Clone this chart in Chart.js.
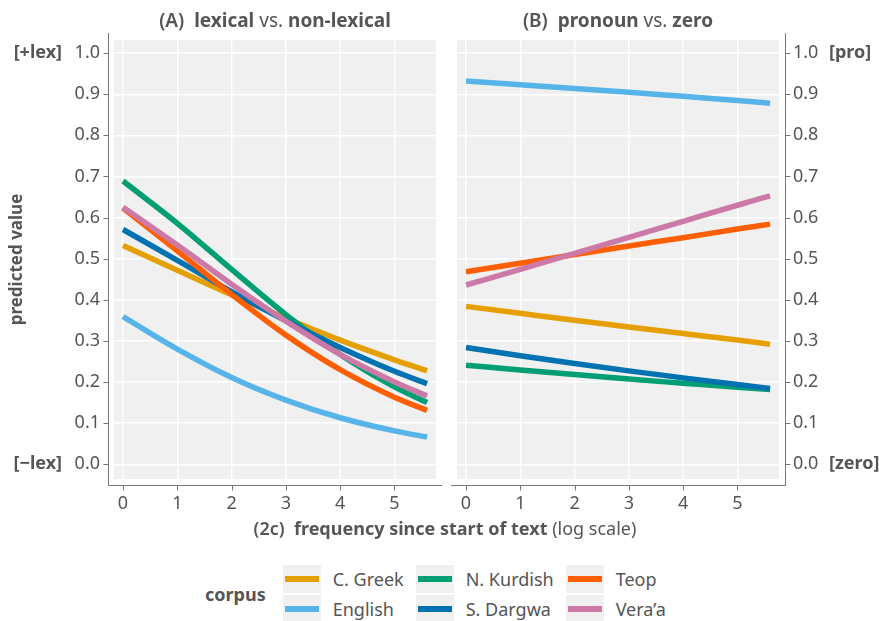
<!DOCTYPE html>
<html>
<head>
<meta charset="utf-8">
<script src="https://cdn.jsdelivr.net/npm/chart.js@4.4.1/dist/chart.umd.min.js"></script>
<style>
  html, body { margin: 0; padding: 0; background: #fff; }
  body { width: 879px; height: 621px; position: relative; overflow: hidden;
         font-family: "Noto Sans", Lato, sans-serif; color: #555; }
  canvas { position: absolute; top: 0; }
  #panelA { left: 0; }
  #panelB { left: 446px; }
  .ptitle { position: absolute; top: 7px; font-size: 19px; line-height: 26px;
            white-space: nowrap; transform: translateX(-50%); }
  .xtitle { position: absolute; top: 516px; left: 445px; font-size: 18px; line-height: 24px;
            white-space: nowrap; transform: translateX(-50%); }
  .b { font-weight: 700; }
  .sb { font-weight: 600; }
  .n { font-weight: 400; }
  #legend { position: absolute; left: 205px; top: 565px; display: flex; align-items: center; }
  #legend .ltitle { font-weight: 700; font-size: 18px; margin-right: 17px; }
  #legend .cols { display: flex; column-gap: 12px; }
  #legend .col { display: flex; flex-direction: column; row-gap: 2px; }
  #legend .item { display: flex; align-items: center; height: 28px; }
  #legend .key { width: 38px; height: 28px; background: #f0f0f0; position: relative; margin-right: 12px; }
  #legend .key i { position: absolute; left: 2px; right: 2px; top: 11px; height: 6px; }
  #legend .lab { font-size: 18px; }
</style>
</head>
<body>
<canvas id="panelA" width="450" height="540"></canvas>
<canvas id="panelB" width="433" height="540"></canvas>

<div class="ptitle" style="left:275px"><span class="sb">(A)</span>&nbsp; <span class="b">lexical</span> <span class="n">vs.</span> <span class="b">non-lexical</span></div>
<div class="ptitle" style="left:618px"><span class="sb">(B)</span>&nbsp; <span class="b">pronoun</span> <span class="n">vs.</span> <span class="b">zero</span></div>
<div class="xtitle"><span class="sb">(2c)</span>&nbsp; <span class="b">frequency since start of text</span> <span class="n">(log scale)</span></div>
<div id="legend"><span class="ltitle">corpus</span><div class="cols"></div></div>

<script>
// ---- data -------------------------------------------------------------
const corpora = ["C. Greek", "English", "N. Kurdish", "S. Dargwa", "Teop", "Vera\u2019a"];
const corpusColors = ["#E69F00", "#56B4E9", "#009E73", "#0072B2", "#FF5F00", "#CC79A7"];

// log frequency since start of text
const freq = [0, 1, 2, 3, 4, 5, 5.6];

// (A) predicted probability of a lexical form
const lexGreek   = [0.532, 0.472, 0.412, 0.355, 0.302, 0.254, 0.227];
const lexEnglish = [0.359, 0.280, 0.211, 0.156, 0.113, 0.081, 0.066];
const lexKurdish = [0.689, 0.586, 0.474, 0.364, 0.267, 0.188, 0.150];
const lexDargwa  = [0.571, 0.496, 0.420, 0.349, 0.284, 0.226, 0.196];
const lexTeop    = [0.623, 0.519, 0.413, 0.314, 0.230, 0.163, 0.131];
const lexVeraa   = [0.625, 0.533, 0.438, 0.348, 0.267, 0.200, 0.166];

// (B) predicted probability of a pronoun (vs. zero)
const proGreek   = [0.384, 0.367, 0.350, 0.334, 0.318, 0.302, 0.292];
const proEnglish = [0.932, 0.923, 0.914, 0.905, 0.895, 0.885, 0.878];
const proKurdish = [0.241, 0.229, 0.218, 0.207, 0.197, 0.187, 0.182];
const proDargwa  = [0.284, 0.264, 0.245, 0.227, 0.210, 0.194, 0.184];
const proTeop    = [0.468, 0.489, 0.510, 0.531, 0.551, 0.572, 0.584];
const proVeraa   = [0.436, 0.474, 0.513, 0.552, 0.591, 0.630, 0.653];

const xTicks = [0, 1, 2, 3, 4, 5];
const yTicks = [0, 0.1, 0.2, 0.3, 0.4, 0.5, 0.6, 0.7, 0.8, 0.9, 1.0];

const lexSeries = [lexGreek, lexEnglish, lexKurdish, lexDargwa, lexTeop, lexVeraa];
const proSeries = [proGreek, proEnglish, proKurdish, proDargwa, proTeop, proVeraa];

// ---- drawing ----------------------------------------------------------
const INK = "#555555";
const FAMILY = "'Noto Sans', Lato, sans-serif";
Chart.defaults.font.family = FAMILY;
Chart.defaults.color = INK;

// grey panel background plus detached axis lines, ticks and bracket labels
const panelDecor = {
  id: "panelDecor",
  beforeDraw(chart) {
    const { ctx, chartArea: a } = chart;
    ctx.save();
    ctx.fillStyle = "#f0f0f0";
    ctx.fillRect(a.left, a.top, a.right - a.left, a.bottom - a.top);
    ctx.restore();
  },
  afterDraw(chart, args, opts) {
    const { ctx, chartArea: a, scales: { x, y } } = chart;
    const gap = 6, len = 5;
    const left = opts.side === "left";
    const ax = Math.round(left ? a.left - gap : a.right + gap) + 0.5;
    const ay = Math.round(a.bottom + gap) + 0.5;
    ctx.save();
    ctx.strokeStyle = "#777";
    ctx.lineWidth = 1;
    ctx.beginPath();
    ctx.moveTo(ax, a.top - 7);
    ctx.lineTo(ax, ay);
    ctx.moveTo(left ? ax : a.left - gap, ay);
    ctx.lineTo(left ? a.right + gap : ax, ay);
    y.ticks.forEach(t => {
      const py = Math.round(y.getPixelForValue(t.value)) + 0.5;
      ctx.moveTo(ax, py);
      ctx.lineTo(ax + (left ? -len : len), py);
    });
    x.ticks.forEach(t => {
      const px = Math.round(x.getPixelForValue(t.value)) + 0.5;
      ctx.moveTo(px, ay);
      ctx.lineTo(px, ay + len);
    });
    ctx.stroke();

    ctx.fillStyle = INK;
    ctx.font = "bold 18px " + FAMILY;
    ctx.textBaseline = "middle";
    ctx.textAlign = left ? "right" : "left";
    const lx = left ? a.left - 52 : a.right + 50;
    ctx.fillText(opts.topLabel, lx, y.getPixelForValue(1));
    ctx.fillText(opts.bottomLabel, lx, y.getPixelForValue(0));
    ctx.restore();
  }
};

function makeDatasets(series) {
  return series.map((vals, i) => ({
    label: corpora[i],
    data: freq.map((f, k) => ({ x: f, y: vals[k] })),
    borderColor: corpusColors[i],
    backgroundColor: corpusColors[i],
    borderWidth: 5.5,
    pointRadius: 0,
    fill: false,
    cubicInterpolationMode: "monotone",
    order: series.length - i
  }));
}

function makeChart(canvasId, series, side, topLabel, bottomLabel) {
  const left = side === "left";
  return new Chart(document.getElementById(canvasId), {
    type: "line",
    data: { datasets: makeDatasets(series) },
    plugins: [panelDecor],
    options: {
      responsive: false,
      animation: false,
      devicePixelRatio: 1,
      layout: { padding: left ? { top: 40, right: 14, left: 0, bottom: 0 }
                              : { top: 40, right: 0, left: 11, bottom: 0 } },
      plugins: {
        legend: { display: false },
        tooltip: { enabled: false },
        panelDecor: { side, topLabel, bottomLabel }
      },
      scales: {
        x: {
          type: "linear",
          min: -0.166, max: 5.765,
          afterBuildTicks: s => { s.ticks = xTicks.map(v => ({ value: v })); },
          afterFit: s => { s.height = 61; },
          grid: { color: "#ffffff", lineWidth: 1.4, drawTicks: false },
          border: { display: false },
          ticks: { padding: 14, color: INK, font: { size: 18 }, callback: v => String(v) }
        },
        y: {
          type: "linear",
          position: side,
          min: -0.036, max: 1.032,
          afterBuildTicks: s => { s.ticks = yTicks.map(v => ({ value: v })); },
          afterFit: s => { s.width = left ? 114 : 100; },
          grid: { color: "#ffffff", lineWidth: 1.4, drawTicks: false },
          border: { display: false },
          ticks: { padding: 14, color: INK, font: { size: 18 }, callback: v => Number(v).toFixed(1) },
          title: left ? { display: true, text: "predicted value", color: INK,
                          font: { size: 17, weight: "bold" }, padding: { top: 7, bottom: 0 } }
                      : { display: false }
        }
      }
    }
  });
}

makeChart("panelA", lexSeries, "left", "[+lex]", "[\u2212lex]");
makeChart("panelB", proSeries, "right", "[pro]", "[zero]");

// legend: three columns of two entries
const cols = document.querySelector("#legend .cols");
for (let c = 0; c < 3; c++) {
  const col = document.createElement("div");
  col.className = "col";
  for (let r = 0; r < 2; r++) {
    const i = c * 2 + r;
    const item = document.createElement("div");
    item.className = "item";
    item.innerHTML = '<span class="key"><i style="background:' + corpusColors[i] + '"></i></span>' +
                     '<span class="lab"></span>';
    item.querySelector(".lab").textContent = corpora[i];
    col.appendChild(item);
  }
  cols.appendChild(col);
}
</script>
</body>
</html>
